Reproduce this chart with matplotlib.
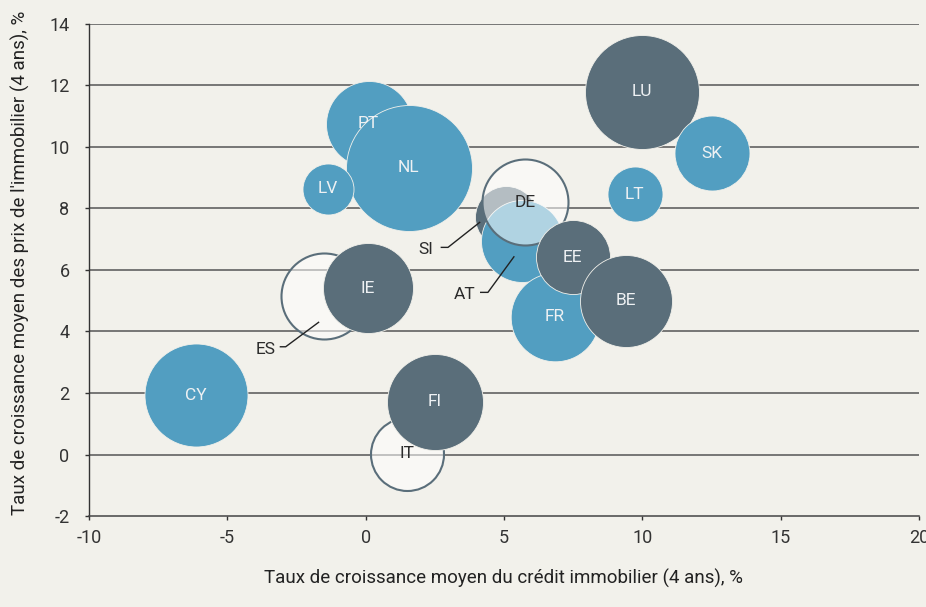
import matplotlib
matplotlib.use('Agg')
import matplotlib.pyplot as plt
import matplotlib.transforms as mtransforms
from matplotlib.colors import to_rgba

plt.rcParams['font.family'] = ['Roboto', 'DejaVu Sans']
plt.rcParams['axes.unicode_minus'] = False

# données (ordre = ordre de tracé)
pays = ['IT', 'FI', 'ES', 'IE', 'CY', 'PT', 'NL', 'LV', 'SI', 'AT', 'DE',
        'FR', 'EE', 'BE', 'LU', 'SK', 'LT']
credit = [1.49, 2.49, -1.50, 0.07, -6.15, 0.11, 1.55, -1.36, 5.06, 5.65, 5.77,
          6.83, 7.48, 9.40, 9.99, 12.53, 9.72]
prix = [0.03, 1.71, 5.17, 5.40, 1.93, 10.75, 9.33, 8.65, 7.72, 6.93, 8.20,
        4.48, 6.42, 5.00, 11.79, 9.80, 8.46]
taille = [36.5, 48, 43, 45, 51.5, 43, 63, 25.5, 31, 41, 43,
          44.3, 37, 46, 57, 37.5, 27.5]
groupe = ['blanc', 'gris', 'blanc', 'gris', 'bleu', 'bleu', 'bleu', 'bleu', 'gris', 'bleu', 'blanc',
          'bleu', 'gris', 'gris', 'gris', 'bleu', 'bleu']

fond = '#f2f1eb'
bleu = '#529ec1'
gris = '#5a6e7a'
texte = '#2b2b2b'

# étiquettes placées hors des bulles (décalages en points par rapport au centre)
etiquettes_ext = {
    'SI': ((-57.6, -23.0), [(-46.3, -21.8), (-41.5, -21.8), (-18.7, -3.8)]),
    'AT': ((-41.3, -37.9), [(-29.7, -36.7), (-24.5, -36.7), (-5.8, -11.1)]),
    'ES': ((-42.3, -38.7), [(-31.5, -36.9), (-27.7, -36.9), (-4.0, -19.3)]),
}

fig = plt.figure(figsize=(9.26, 6.07), dpi=100, facecolor=fond)
ax = fig.add_axes([0.0961, 0.1499, 0.8963, 0.8106])
ax.set_facecolor(fond)
ax.set_xlim(-10, 20)
ax.set_ylim(-2, 14)
ax.set_xticks(range(-10, 21, 5))
ax.set_yticks(range(-2, 15, 2))

# grille horizontale
for y in range(0, 15, 2):
    ax.axhline(y, color='#555555', lw=1.1, zorder=1)

for i, p in enumerate(pays):
    r_pt = taille[i] * 0.72
    s = (2 * r_pt) ** 2
    if groupe[i] == 'blanc':
        ax.scatter(credit[i], prix[i], s=s, facecolors=[to_rgba('#ffffff', 0.55)],
                   edgecolors=gris, linewidths=1.5, zorder=3 + i)
        couleur_txt = texte
    else:
        c = bleu if groupe[i] == 'bleu' else gris
        ax.scatter(credit[i], prix[i], s=s, facecolors=c, edgecolors=fond,
                   linewidths=0.6, zorder=3 + i)
        couleur_txt = '#eef1f3'
    if p in etiquettes_ext:
        (tx, ty), ligne = etiquettes_ext[p]
        trans = (mtransforms.Affine2D().scale(1 / 72) + fig.dpi_scale_trans
                 + mtransforms.ScaledTranslation(credit[i], prix[i], ax.transData))
        ax.text(tx, ty, p, transform=trans, ha='center', va='center',
                fontsize=12.5, color=texte, zorder=30)
        ax.plot([v[0] for v in ligne], [v[1] for v in ligne], transform=trans,
                color='#222222', lw=1, zorder=30, clip_on=False)
    else:
        ax.text(credit[i], prix[i], p, ha='center', va='center', fontsize=12.5,
                color=couleur_txt, zorder=30)

for cote in ['top', 'right']:
    ax.spines[cote].set_visible(False)
ax.spines['left'].set_color('#333333')
ax.spines['bottom'].set_color('#444444')
ax.spines['left'].set_linewidth(1)
ax.spines['bottom'].set_linewidth(1.1)
ax.tick_params(axis='both', colors='#333333', labelsize=13, length=3, width=1,
               labelcolor='#333333')
ax.tick_params(axis='x', pad=6)
ax.tick_params(axis='y', pad=11)

ax.set_xlabel('Taux de croissance moyen du crédit immobilier (4 ans), %',
              fontsize=13.5, color='#222222')
ax.xaxis.set_label_coords(0.5, -0.126)
ax.xaxis.label.set_va('center')
ax.set_ylabel("Taux de croissance moyen des prix de l'immobilier (4 ans), %",
              fontsize=13.5, color='#222222')
ax.yaxis.set_label_coords(-0.083, 0.514)
ax.yaxis.label.set_va('center')

fig.savefig('out.png', dpi=100, facecolor=fond)
